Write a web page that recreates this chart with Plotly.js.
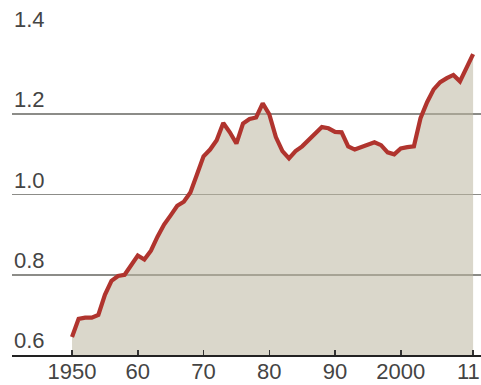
<!DOCTYPE html>
<html>
<head>
<meta charset="utf-8">
<script src="https://cdn.plot.ly/plotly-3.0.1.min.js"></script>
<style>
  html, body { margin: 0; padding: 0; background: #ffffff; }
  #chart { width: 481px; height: 385px; }
</style>
</head>
<body>
<div id="chart"></div>
<script>
// Annual series, 1950-2011
const years = [];
for (let y = 1950; y <= 2011; y++) years.push(y);

const values = [
  0.645, 0.690, 0.693, 0.693, 0.700, 0.750, 0.785, 0.797, 0.800, 0.825,
  0.848, 0.838, 0.860, 0.895, 0.925, 0.948, 0.972, 0.982, 1.005, 1.050,
  1.095, 1.112, 1.135, 1.178, 1.155, 1.127, 1.177, 1.188, 1.192, 1.227,
  1.200, 1.143, 1.108, 1.090, 1.108, 1.120, 1.135, 1.150, 1.168, 1.165,
  1.156, 1.155, 1.120, 1.112, 1.118, 1.122, 1.130, 1.123, 1.105, 1.100,
  1.115, 1.118, 1.120, 1.190, 1.230, 1.262, 1.280, 1.290, 1.298, 1.282,
  1.318, 1.350
];

const xTickVals = [1950, 1960, 1970, 1980, 1990, 2000, 2011];
const xTickText = ["1950", "60", "70", "80", "90", "2000", "11"];

const yTickVals = [0.6, 0.8, 1.0, 1.2, 1.4];
const yTickText = ["0.6", "0.8", "1.0", "1.2", "1.4"];

const labelFont = { family: "Liberation Sans, Arial, sans-serif", size: 22, color: "#444444" };

const trace = {
  x: years,
  y: values,
  type: "scatter",
  mode: "lines",
  fill: "tozeroy",
  fillcolor: "rgba(188,183,160,0.55)",
  line: { color: "#b0342e", width: 4.2, shape: "linear" },
  hoverinfo: "skip"
};

// y labels sit just above their gridlines at the left edge
const yLabels = yTickVals.map((v, i) => ({
  xref: "paper", yref: "y",
  x: 0, y: v,
  xanchor: "left", yanchor: "bottom",
  text: yTickText[i],
  showarrow: false,
  font: labelFont
}));

// the last year label would run past the right edge, so it is
// drawn as an annotation tucked against the edge instead
const lastIdx = xTickVals.length - 1;
const axisTickText = xTickText.map((t, i) => (i === lastIdx ? "" : t));
const lastLabel = {
  xref: "paper", yref: "paper",
  x: 1, y: 0,
  xanchor: "right", yanchor: "middle",
  yshift: -16,
  borderpad: 0,
  text: xTickText[lastIdx],
  showarrow: false,
  font: labelFont
};

const layout = {
  width: 481,
  height: 385,
  margin: { l: 12, r: 0, t: 34, b: 30 },
  paper_bgcolor: "#ffffff",
  plot_bgcolor: "#ffffff",
  showlegend: false,
  xaxis: {
    range: [1940.87, 2012.2],
    tickmode: "array",
    tickvals: xTickVals,
    ticktext: axisTickText,
    ticks: "inside",
    ticklen: 5,
    tickwidth: 1.5,
    tickcolor: "#333333",
    tickfont: labelFont,
    ticklabeloverflow: "allow",
    ticklabelstandoff: -4,
    showgrid: false,
    zeroline: false,
    showline: true,
    linecolor: "#222222",
    linewidth: 1.5,
    layer: "above traces",
    fixedrange: true
  },
  yaxis: {
    range: [0.6, 1.4],
    tickmode: "array",
    tickvals: yTickVals,
    showticklabels: false,
    ticks: "",
    showgrid: true,
    gridcolor: "#8c8c88",
    gridwidth: 1.6,
    zeroline: false,
    showline: false,
    fixedrange: true
  },
  annotations: yLabels.concat([lastLabel])
};

Plotly.newPlot("chart", [trace], layout, { displayModeBar: false, staticPlot: true });
</script>
</body>
</html>
